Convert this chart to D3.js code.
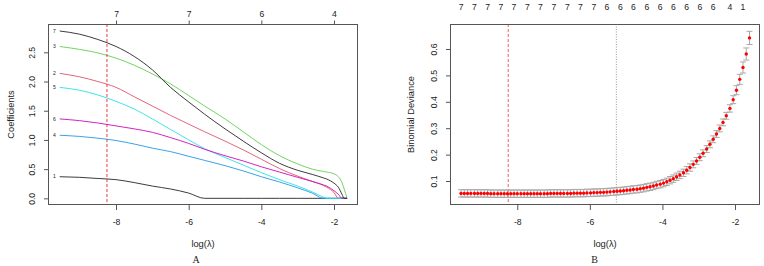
<!DOCTYPE html>
<html><head><meta charset="utf-8">
<script src="https://cdn.jsdelivr.net/npm/d3@7"></script>
<style>body{margin:0;background:#fff} svg{display:block} text{font-family:"Liberation Sans",Arial,sans-serif;fill:#222}</style>
</head><body><svg id="c" width="764" height="266"></svg>
<script>
// ---------- Panel A data: coefficient paths ----------
const pathLog = [-9.55,-9.0,-8.5,-8.0,-7.5,-7.0,-6.5,-6.0,-5.56,-5.0,-4.5,-4.0,-3.5,-3.0,-2.6,-2.29,-2.2,-2.0,-1.88,-1.78,-1.72,-1.64];
const coef1 = [0.37,0.36,0.34,0.32,0.27,0.21,0.16,0.09,0,0,0,0,0,0,0,0,0,0,0,0,0,0];
const coef2 = [2.14,2.08,2.00,1.90,1.74,1.58,1.42,1.27,1.14,0.98,0.83,0.67,0.51,0.38,0.29,0.22,0.19,0.10,0,0,0,0];
const coef3 = [2.60,2.55,2.49,2.40,2.28,2.13,1.96,1.76,1.58,1.36,1.14,0.92,0.73,0.59,0.50,0.46,0.45,0.42,0.37,0.27,0.16,0];
const coef4 = [1.08,1.06,1.03,0.99,0.93,0.86,0.80,0.72,0.65,0.56,0.47,0.37,0.28,0.18,0.09,0,0,0,0,0,0,0];
const coef5 = [1.90,1.85,1.77,1.66,1.53,1.36,1.18,1.00,0.85,0.70,0.57,0.44,0.32,0.21,0.11,0.02,0,0,0,0,0,0];
const coef6 = [1.36,1.33,1.29,1.24,1.19,1.13,1.04,0.94,0.84,0.73,0.64,0.54,0.45,0.36,0.29,0.23,0.21,0.13,0.07,0,0,0];
const coef7 = [2.865,2.81,2.72,2.60,2.43,2.20,1.90,1.65,1.44,1.19,0.98,0.78,0.60,0.48,0.41,0.35,0.33,0.26,0.19,0.07,0,0];
const varNames = ["1","2","3","4","5","6","7"];
const varColors = ["#262626","#DF536B","#61D04F","#2297E6","#28E2E5","#CD0BBC","#262626"];
const topTicksA = [-8,-6,-4,-2];
const topLabelsA = ["7","7","6","4"];
const bottomTicks = [-8,-6,-4,-2];
const yTicksA = [0,0.5,1.0,1.5,2.0,2.5];
const lambdaMinLog = -8.25;
const lambda1seLog = -5.27;

// ---------- Panel B data: cross-validation curve ----------
const logLambda = [-9.55,-9.46,-9.37,-9.28,-9.18,-9.09,-9.00,-8.91,-8.82,-8.73,-8.64,-8.54,-8.45,-8.36,-8.27,-8.18,-8.09,-8.00,-7.90,-7.81,-7.72,-7.63,-7.54,-7.45,-7.36,-7.26,-7.17,-7.08,-6.99,-6.90,-6.81,-6.72,-6.62,-6.53,-6.44,-6.35,-6.26,-6.17,-6.08,-5.98,-5.89,-5.80,-5.71,-5.62,-5.53,-5.44,-5.34,-5.25,-5.16,-5.07,-4.98,-4.89,-4.80,-4.70,-4.61,-4.52,-4.43,-4.34,-4.25,-4.16,-4.06,-3.97,-3.88,-3.79,-3.70,-3.61,-3.52,-3.42,-3.33,-3.24,-3.15,-3.06,-2.97,-2.88,-2.78,-2.69,-2.60,-2.51,-2.42,-2.33,-2.24,-2.14,-2.05,-1.96,-1.87,-1.78,-1.69,-1.60];
const cvMean = [0.053,0.053,0.053,0.053,0.053,0.053,0.053,0.053,0.053,0.052,0.052,0.052,0.052,0.052,0.052,0.052,0.052,0.052,0.052,0.052,0.052,0.052,0.052,0.052,0.052,0.052,0.052,0.053,0.053,0.053,0.053,0.053,0.053,0.053,0.054,0.054,0.054,0.054,0.055,0.055,0.056,0.056,0.057,0.057,0.058,0.059,0.060,0.061,0.062,0.063,0.065,0.066,0.068,0.069,0.071,0.073,0.076,0.078,0.081,0.085,0.088,0.092,0.097,0.103,0.109,0.116,0.123,0.131,0.141,0.151,0.163,0.176,0.190,0.205,0.221,0.239,0.258,0.278,0.299,0.322,0.347,0.375,0.408,0.444,0.485,0.530,0.581,0.642];
const cvSE = [0.014,0.014,0.014,0.014,0.014,0.014,0.014,0.014,0.014,0.014,0.014,0.014,0.014,0.014,0.014,0.014,0.014,0.014,0.014,0.014,0.014,0.014,0.014,0.014,0.014,0.014,0.014,0.014,0.014,0.014,0.014,0.014,0.014,0.014,0.014,0.014,0.014,0.014,0.014,0.014,0.014,0.014,0.014,0.014,0.014,0.014,0.014,0.014,0.014,0.014,0.014,0.014,0.014,0.014,0.014,0.014,0.014,0.014,0.014,0.014,0.014,0.014,0.014,0.014,0.014,0.014,0.014,0.014,0.014,0.014,0.013,0.013,0.013,0.013,0.013,0.013,0.013,0.013,0.013,0.013,0.013,0.014,0.015,0.017,0.019,0.021,0.023,0.025];
const topIdxB = [0,4,8,12,16,20,24,28,32,36,40,44,48,52,56,60,64,68,72,76,81,85];
const topLabelsB = ["7","7","7","7","7","7","7","7","7","7","7","6","6","6","6","6","6","6","6","6","4","1"];
const yTicksB = [0.1,0.2,0.3,0.4,0.5,0.6];

// ---------- drawing ----------
const svg = d3.select("#c");
const axisCol = "#555";
const tickFont = 8.6, titleFont = 9.3;

function frame(g, x, y, xTicks, yTicks, yFmt, labelX) {
  const [x0,x1] = x.range(), [y0,y1] = y.range();
  const ax = g.append("g").attr("transform",`translate(0,${y0})`)
    .call(d3.axisBottom(x).tickValues(xTicks).tickSize(5).tickPadding(9.3).tickFormat(d=>String(d)));
  ax.select(".domain").remove();
  ax.selectAll("line").attr("stroke",axisCol);
  ax.selectAll("text").attr("font-size",tickFont).attr("fill","#222").attr("font-family","Liberation Sans");
  const ay = g.append("g").attr("transform",`translate(${x0},0)`)
    .call(d3.axisLeft(y).tickValues(yTicks).tickSize(4).tickFormat(yFmt));
  ay.select(".domain").remove();
  ay.selectAll("line").attr("stroke",axisCol);
  ay.selectAll("text").attr("x",null).attr("dy",null).attr("text-anchor","middle")
    .attr("transform",`translate(${labelX - x0},0) rotate(-90)`)
    .attr("font-size",tickFont).attr("fill","#222").attr("font-family","Liberation Sans");
  g.append("rect").attr("x",x0+0.5).attr("y",y1+0.5).attr("width",x1-x0-1).attr("height",y0-y1-1)
    .attr("fill","none").attr("stroke",axisCol).attr("stroke-width",1);
}

// Panel A
const xA = d3.scaleLinear().domain([-9.873,-1.339]).range([48,358]);
const yA = d3.scaleLinear().domain([-0.114,2.985]).range([205,24]);
const gA = svg.append("g");
const coefs = [coef1,coef2,coef3,coef4,coef5,coef6,coef7];
const lineA = d3.line().x(d=>xA(d[0])).y(d=>yA(d[1])).curve(d3.curveMonotoneX);
coefs.forEach((c,i)=>{
  gA.append("path").attr("d",lineA(pathLog.map((l,j)=>[l,c[j]])))
    .attr("fill","none").attr("stroke",varColors[i]).attr("stroke-width",0.9);
});
coefs.forEach((c,i)=>{
  gA.append("text").attr("x",xA(pathLog[0])-4).attr("y",yA(c[0])).attr("dy","0.35em")
    .attr("text-anchor","end").attr("font-size",5).text(varNames[i]);
});
gA.append("line").attr("x1",xA(lambdaMinLog)).attr("x2",xA(lambdaMinLog))
  .attr("y1",yA.range()[1]).attr("y2",yA.range()[0])
  .attr("stroke","#e8262b").attr("stroke-width",0.9).attr("stroke-dasharray","3,2");
frame(gA, xA, yA, bottomTicks, yTicksA, d=>d3.format(".1f")(d), 35);
const tA = gA.append("g").attr("transform",`translate(0,${yA.range()[1]})`)
  .call(d3.axisTop(xA).tickValues(topTicksA).tickSize(3.5).tickPadding(4).tickFormat((d,i)=>topLabelsA[i]));
tA.select(".domain").remove();
tA.selectAll("line").attr("stroke",axisCol);
tA.selectAll("text").attr("font-size",tickFont).attr("fill","#222").attr("font-family","Liberation Sans");
gA.append("text").attr("transform",`translate(14,${(24+205)/2}) rotate(-90)`).attr("text-anchor","middle")
  .attr("font-size",titleFont).text("Coefficients");
gA.append("text").attr("x",(48+358)/2).attr("y",247).attr("text-anchor","middle").attr("font-size",titleFont).text("log(λ)");
gA.append("text").attr("x",196).attr("y",263).attr("text-anchor","middle").attr("font-size",10)
  .style("font-family","'Liberation Serif',serif").text("A");

// Panel B
const xB = d3.scaleLinear().domain([-9.854,-1.311]).range([450,760]);
const yB = d3.scaleLinear().domain([0.0091,0.6947]).range([205,24]);
const gB = svg.append("g");
gB.append("line").attr("x1",xB(lambdaMinLog)).attr("x2",xB(lambdaMinLog))
  .attr("y1",yB.range()[1]).attr("y2",yB.range()[0])
  .attr("stroke","#f36060").attr("stroke-width",1).attr("stroke-dasharray","3,2");
gB.append("line").attr("x1",xB(lambda1seLog)).attr("x2",xB(lambda1seLog))
  .attr("y1",yB.range()[1]).attr("y2",yB.range()[0])
  .attr("stroke","#999").attr("stroke-width",1).attr("stroke-dasharray","1,1.5");
const capHalf = 0.083;
const eb = gB.append("g").attr("stroke","#A9A9A9").attr("stroke-width",1);
logLambda.forEach((l,i)=>{
  const up = cvMean[i]+cvSE[i], lo = cvMean[i]-cvSE[i];
  eb.append("line").attr("x1",xB(l)).attr("x2",xB(l)).attr("y1",yB(up)).attr("y2",yB(lo));
  eb.append("line").attr("x1",xB(l-capHalf)).attr("x2",xB(l+capHalf)).attr("y1",yB(up)).attr("y2",yB(up));
  eb.append("line").attr("x1",xB(l-capHalf)).attr("x2",xB(l+capHalf)).attr("y1",yB(lo)).attr("y2",yB(lo));
});
gB.append("g").selectAll("circle").data(logLambda).join("circle")
  .attr("cx",d=>xB(d)).attr("cy",(d,i)=>yB(cvMean[i])).attr("r",1.7).attr("fill","#ff0000");
frame(gB, xB, yB, bottomTicks, yTicksB, d=>d3.format(".1f")(d), 437.3);
gB.append("g").selectAll("text").data(topIdxB).join("text")
  .attr("x",d=>xB(logLambda[d])).attr("y",10).attr("text-anchor","middle").attr("font-size",tickFont)
  .text((d,i)=>topLabelsB[i]);
gB.append("text").attr("transform",`translate(414,${(24+205)/2}) rotate(-90)`).attr("text-anchor","middle")
  .attr("font-size",titleFont).text("Binomial Deviance");
gB.append("text").attr("x",(450+760)/2).attr("y",247).attr("text-anchor","middle").attr("font-size",titleFont).text("log(λ)");
gB.append("text").attr("x",594.5).attr("y",263).attr("text-anchor","middle").attr("font-size",10)
  .style("font-family","'Liberation Serif',serif").text("B");
</script></body></html>
